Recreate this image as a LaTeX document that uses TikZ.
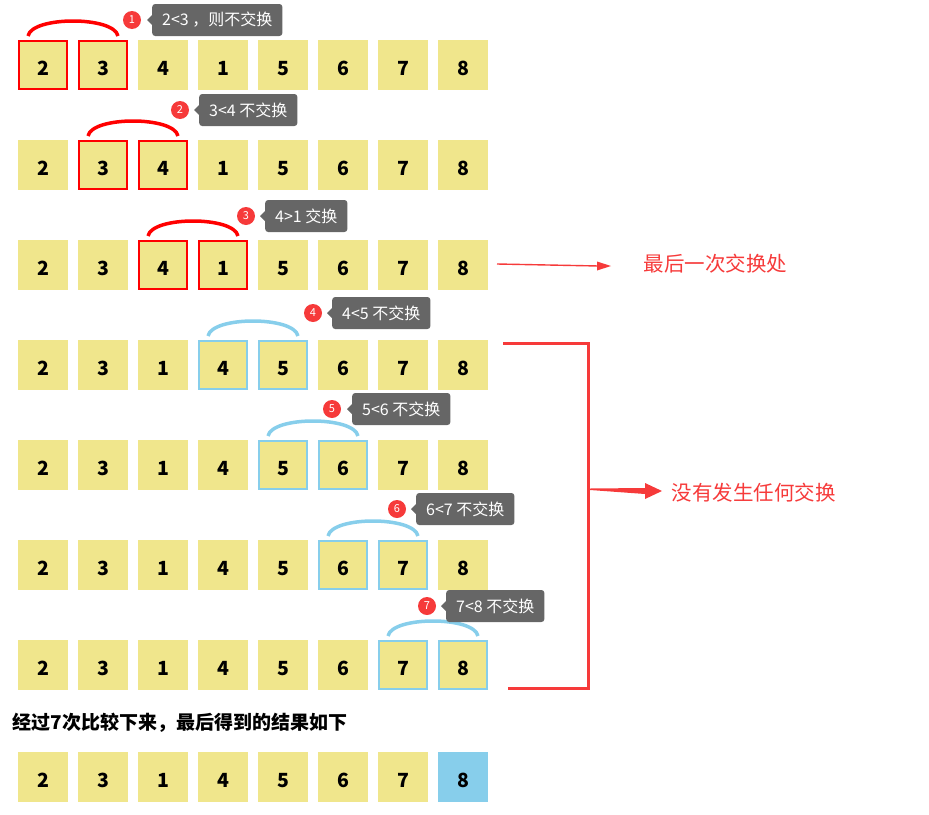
\documentclass[tikz,border=0pt]{standalone}
\usepackage{fontspec}
\newfontfamily\cjk{Noto Sans CJK SC}
\definecolor{khaki}{HTML}{F0E68C}
\definecolor{sky}{HTML}{87CEEB}
\definecolor{hlred}{HTML}{FF0000}
\definecolor{notered}{HTML}{F63A3A}
\definecolor{tipgray}{HTML}{666666}
\begin{document}
\begin{tikzpicture}[x=1pt,y=-1pt,
  cell/.style={fill=khaki, minimum width=50pt, minimum height=50pt, inner sep=0pt,
    text height=20pt, text depth=0pt, font=\cjk\bfseries\fontsize{19.5}{19.5}\selectfont},
  redcell/.style={cell, draw=hlred, line width=1.6pt, minimum width=48.4pt, minimum height=48.4pt},
  bluecell/.style={cell, draw=sky, line width=1.6pt, minimum width=48.4pt, minimum height=48.4pt},
  badge/.style={circle, fill=notered, minimum size=18pt, inner sep=0pt, text=white,
    font=\cjk\fontsize{11}{11}\selectfont},
  tip/.style={fill=tipgray, rounded corners=3pt, minimum height=32pt, inner xsep=10pt,
    text=white, anchor=west, font=\cjk\fontsize{16}{16}\selectfont},
  tipptr/.style={fill=tipgray},
  arcline/.style={line width=3.5pt},
  note/.style={text=notered, anchor=west, font=\cjk\fontsize{20.5}{20.5}\selectfont},
]
\useasboundingbox (0,0) rectangle (929,814);

% rows 1-3: 2 3 4 1 5 6 7 8 ; rows 4-7 and final: 2 3 1 4 5 6 7 8
\foreach \r/\top/\hl/\col/\vals in {
  1/40/1/red/{2,3,4,1,5,6,7,8},
  2/140/2/red/{2,3,4,1,5,6,7,8},
  3/240/3/red/{2,3,4,1,5,6,7,8},
  4/340/4/blue/{2,3,1,4,5,6,7,8},
  5/440/5/blue/{2,3,1,4,5,6,7,8},
  6/540/6/blue/{2,3,1,4,5,6,7,8},
  7/640/7/blue/{2,3,1,4,5,6,7,8}} {
  \foreach \v [count=\c] in \vals {
    \pgfmathtruncatemacro{\nx}{\hl+1}
    \ifnum\c=\hl
      \node[\col cell] (b-\r-\c) at ({43+60*(\c-1)},{\top+25}) {\v};
    \else\ifnum\c=\nx
      \node[\col cell] (b-\r-\c) at ({43+60*(\c-1)},{\top+25}) {\v};
    \else
      \node[cell] (b-\r-\c) at ({43+60*(\c-1)},{\top+25}) {\v};
    \fi\fi
  }
}

% final row
\foreach \v [count=\c] in {2,3,1,4,5,6,7,8} {
  \ifnum\c=8
    \node[cell, fill=sky] (f-\c) at ({43+60*(\c-1)},777) {\v};
  \else
    \node[cell] (f-\c) at ({43+60*(\c-1)},777) {\v};
  \fi
}

% arcs over compared pairs
\foreach \r/\a/\b/\clr in {1/1/2/hlred,2/2/3/hlred,3/3/4/hlred,4/4/5/sky,5/5/6/sky,6/6/7/sky,7/7/8/sky} {
  \draw[arcline, draw=\clr] ([xshift=10pt,yshift=4pt]b-\r-\a.north west)
    .. controls ([xshift=14pt,yshift=24pt]b-\r-\a.north west) and ([xshift=-14pt,yshift=24pt]b-\r-\b.north east)
    .. ([xshift=-10pt,yshift=4pt]b-\r-\b.north east);
}

% badges and tooltips
\foreach \n/\bx/\by/\tx/\txt in {
  1/132/20/152/{2<3 ，则不交换},
  2/180/110/199/{3<4 不交换},
  3/246/216/265/{4>1 交换},
  4/313/313/332/{4<5 不交换},
  5/332/409/352/{5<6 不交换},
  6/397/509/416/{6<7 不交换},
  7/427/606/446/{7<8 不交换}} {
  \node[badge] (bd-\n) at (\bx,\by) {\n};
  \node[tip] (tp-\n) at (\tx,\by) {\txt};
  \fill[tipptr] ([yshift=-5pt]tp-\n.west) -- ([xshift=-5pt]tp-\n.west) -- ([yshift=5pt]tp-\n.west) -- cycle;
}

% last exchange arrow
\node[note] (lastnote) at (640,264) {最后一次交换处};
\coordinate (la-s) at (497,264);
\coordinate (la-e) at (611,266);
\draw[notered, line width=1.4pt] (la-s) -- ([xshift=-12pt]la-e);
\fill[notered] ([xshift=-14pt,yshift=-4.5pt]la-e) -- (la-e) -- ([xshift=-14pt,yshift=4.5pt]la-e) -- cycle;

% bracket for no exchange
\coordinate (br-t) at (503,343);
\coordinate (br-tr) at (588,343);
\coordinate (br-br) at (588,688);
\coordinate (br-b) at (508,688);
\draw[notered, line width=3pt] (br-t) -- (br-tr) -- (br-br) -- (br-b);

\node[note] (nonote) at (668,493) {没有发生任何交换};
\coordinate (na-s) at (590,490);
\coordinate (na-e) at (662,491);
\fill[notered] (na-s) -- ([xshift=-17pt,yshift=-3pt]na-e) -- ([xshift=-17pt,yshift=-8pt]na-e) -- (na-e)
  -- ([xshift=-17pt,yshift=8pt]na-e) -- ([xshift=-17pt,yshift=3pt]na-e) -- ([yshift=1.5pt]na-s) -- cycle;

% summary text
\node[anchor=west, font=\cjk\bfseries\fontsize{19}{19}\selectfont] (summary) at (9,723) {经过7次比较下来，最后得到的结果如下};
\end{tikzpicture}
\end{document}
